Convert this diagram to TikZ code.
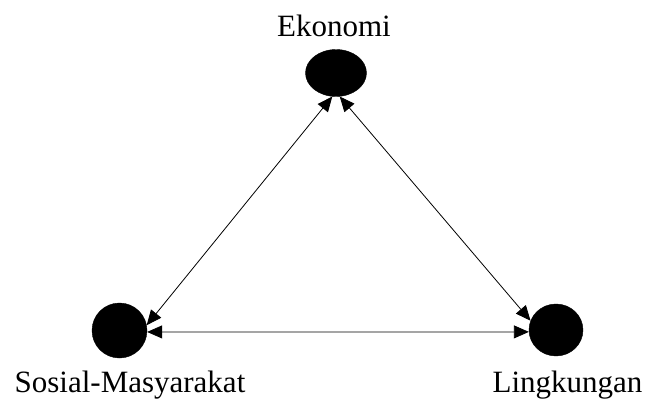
\documentclass[tikz,border=0pt]{standalone}
\usepackage{fontspec}
\setmainfont{Liberation Serif}
\usetikzlibrary{arrows.meta,shapes.geometric}
\begin{document}
\begin{tikzpicture}[x=1pt,y=1pt,
  blob/.style={ellipse,fill=black,draw=black,inner sep=0pt},
  lbl/.style={anchor=base,inner sep=0pt,font=\fontsize{31}{37}\selectfont},
  link/.style={line width=0.8pt,{Triangle[length=15pt,width=13pt]}-{Triangle[length=15pt,width=13pt]}}]
\useasboundingbox (0,0) rectangle (649,-399);
\node[blob,minimum width=61pt,minimum height=47pt] (e) at (336,-73) {};
\node[blob,minimum width=55pt,minimum height=55pt] (s) at (119.5,-330.5) {};
\node[blob,minimum width=54pt,minimum height=52pt] (l) at (556,-330) {};
\node[lbl] (te) at (334,-36) {Ekonomi};
\node[lbl] (ts) at (130,-392) {Sosial-Masyarakat};
\node[lbl] (tl) at (567.5,-392) {Lingkungan};
\draw[link] (e.261) -- (s.11);
\draw[link] (e.279) -- (l.160);
\draw[link] (s.-3) -- (l.184);
\end{tikzpicture}
\end{document}
